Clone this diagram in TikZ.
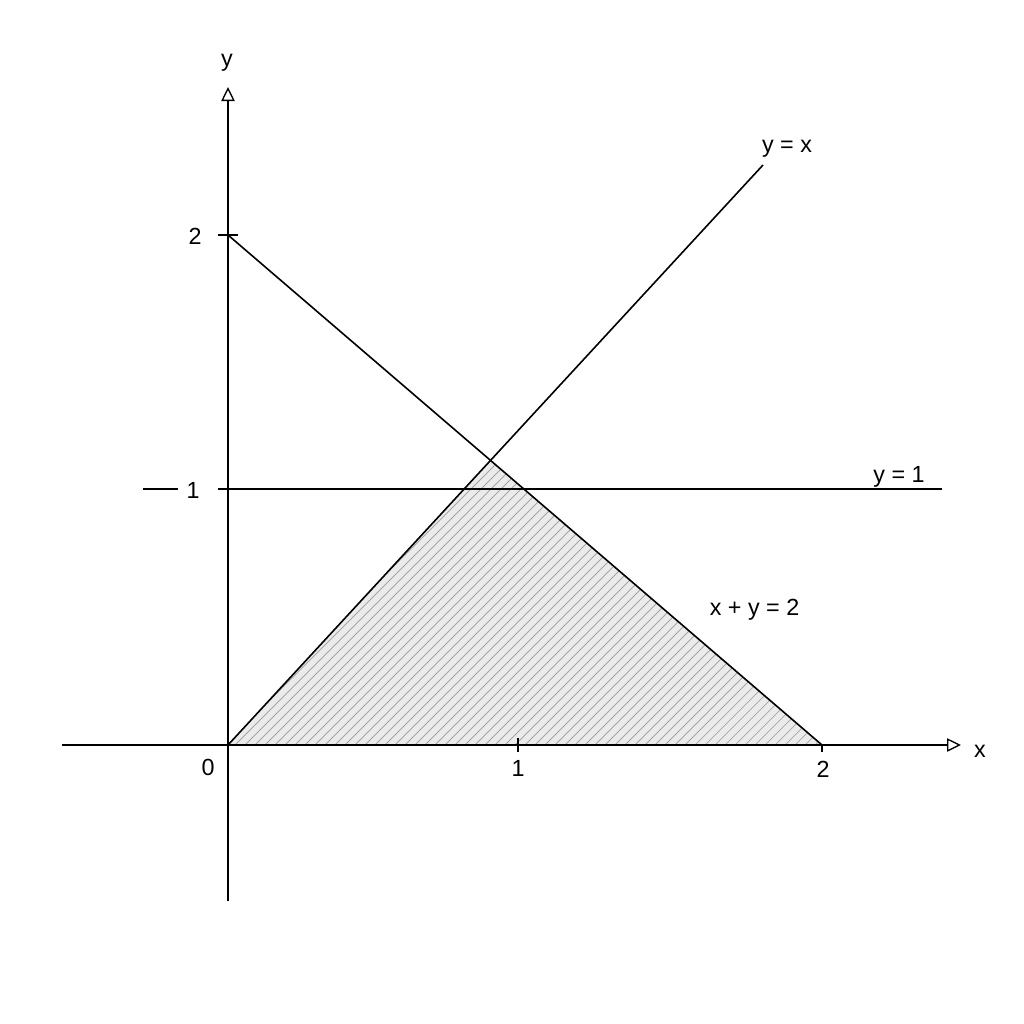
\documentclass[tikz,border=0pt]{standalone}
\usepackage{fontspec}
\setmainfont{Liberation Sans}
\usetikzlibrary{arrows.meta}
\begin{document}
\begin{tikzpicture}[x=0.75pt,y=-0.75pt,
 curve/.style={line width=1.2pt, black},
 axisline/.style={line width=1.2pt, -{Triangle[open,length=10.5pt,width=10pt,line width=1pt]}},
 tick/.style={line width=1.2pt},
 lbl/.style={font=\fontsize{17.5}{20}\selectfont, inner sep=0pt, anchor=base},
 hatch/.style={black!35, line width=0.55pt}]
\useasboundingbox[fill=white] (0,0) rectangle (1024,1024);
\coordinate (O) at (228,745);
\coordinate (P) at (490.5,460.4);
\coordinate (X2) at (822,745);
\coordinate (Y2) at (228,235);
\coordinate (Yx) at (763,165);
\coordinate (Yb) at (228,901);
\coordinate (Yt) at (228,87);
\coordinate (Xl) at (62,745);
\coordinate (Xr) at (961,745);
\coordinate (L1a) at (218,489);
\coordinate (L1b) at (942,489);
% shaded region
\fill[black!8] (O) -- (P) -- (X2) -- cycle;
\begin{scope}
\clip (O) -- (P) -- (X2) -- cycle;
\foreach \c in {950,960,...,1580} \draw[hatch] ({\c-760},760) -- ({\c-440},440);
\end{scope}
% axes
\draw[axisline] (Yb) -- (Yt);
\draw[axisline] (Xl) -- (Xr);
% lines
\draw[curve] (O) -- (Yx);
\draw[curve] (Y2) -- (X2);
\draw[curve] (L1a) -- (L1b);
% ticks
\coordinate (T2a) at (218,235); \coordinate (T2b) at (238,235);
\draw[tick] (T2a) -- (T2b);
\coordinate (Da) at (143,489); \coordinate (Db) at (178,489);
\draw[tick] (Da) -- (Db);
\coordinate (T1a) at (518,738); \coordinate (T1b) at (518,752);
\draw[tick] (T1a) -- (T1b);
\coordinate (T3b) at (822,752);
\draw[tick] (X2) -- (T3b);
% labels
\node[lbl] (ly) at (227,67) {y};
\node[lbl] (lx) at (980,757) {x};
\node[lbl] (l0) at (208,775) {0};
\node[lbl] (ly1) at (193,498) {1};
\node[lbl] (ly2) at (195,244) {2};
\node[lbl] (lx1) at (518,776) {1};
\node[lbl] (lx2) at (823,777) {2};
\node[lbl] (eyx) at (787,152) {y = x};
\node[lbl] (ey1) at (899,482) {y = 1};
\node[lbl] (exy) at (754.5,615) {x + y = 2};
\end{tikzpicture}
\end{document}
